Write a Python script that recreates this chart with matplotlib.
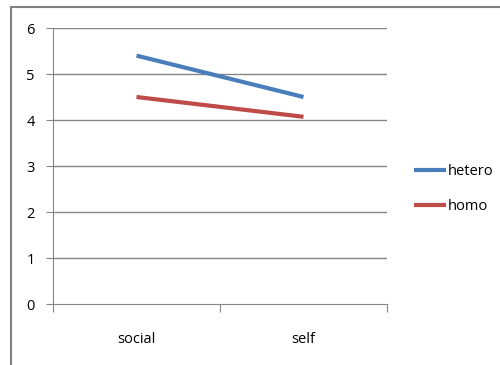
import matplotlib
matplotlib.use("Agg")
from matplotlib import pyplot as plt
from matplotlib.patches import Rectangle

categories = ["social", "self"]
hetero = [5.4, 4.5]
homo = [4.5, 4.07]
yticks = [0, 1, 2, 3, 4, 5, 6]

plt.rcParams["font.family"] = ["Open Sans", "DejaVu Sans"]

W, H = 500, 365
fig = plt.figure(figsize=(W / 100, H / 100), dpi=100)
ax = fig.add_axes([53 / W, 1 - 304 / H, (387 - 53) / W, (304 - 28) / H])

x = [0.5, 1.5]
ax.plot(x, hetero, color="#4a7ebb", lw=3, label="hetero", solid_capstyle="butt")
ax.plot(x, homo, color="#be4b48", lw=3, label="homo", solid_capstyle="butt")

ax.set_xlim(0, 2)
ax.set_ylim(0, 6)
ax.set_yticks(yticks)
ax.set_yticklabels([str(v) for v in yticks], fontsize=10.5)
for v in yticks[1:]:
    ax.axhline(v, color="#868686", lw=1, zorder=0)

ax.set_xticks([0, 1, 2])
ax.set_xticklabels([])
ax.set_xticks(x, minor=True)
ax.set_xticklabels(categories, minor=True, fontsize=10.5)
ax.tick_params(axis="x", which="minor", length=0, pad=20)
ax.tick_params(axis="x", which="major", length=6, color="#868686", direction="out")
ax.tick_params(axis="y", length=5, color="#868686", pad=8)

for s in ["top", "right"]:
    ax.spines[s].set_visible(False)
ax.spines["left"].set_color("#868686")
ax.spines["bottom"].set_color("#868686")

fig.legend(loc="upper left", bbox_to_anchor=(408 / W, 1 - 158 / H), frameon=False,
           fontsize=10.5, handlelength=2.2, handletextpad=0.15, labelspacing=1.4,
           borderaxespad=0)

fig.patches.append(Rectangle((11 / W, -0.1), 1.1, 1 - 7 / H + 0.1,
                             transform=fig.transFigure, fill=False,
                             edgecolor="#808080", lw=1.5))

fig.savefig("out.png", dpi=100)
